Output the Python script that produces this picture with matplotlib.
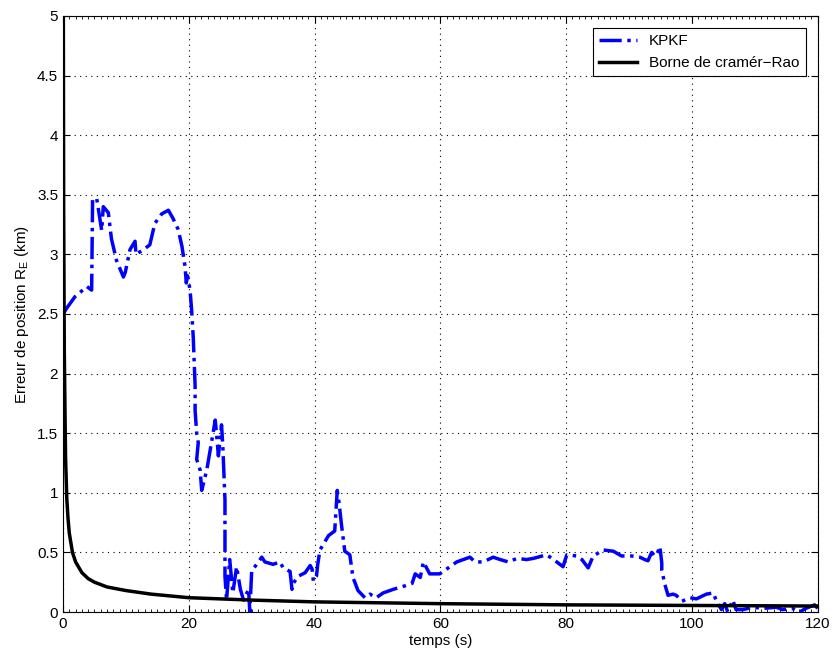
import matplotlib
matplotlib.use('Agg')
import matplotlib.pyplot as plt
import numpy as np
from matplotlib.ticker import MultipleLocator

plt.rcParams.update({'font.family': 'Liberation Sans',
                     'mathtext.fontset': 'custom',
                     'mathtext.rm': 'Liberation Sans',
                     'mathtext.it': 'Liberation Sans',
                     'font.size': 11})

# KPKF position error (km) vs time (s)
t_kpkf = [0.0, 0.6, 1.9, 3.8, 4.55, 4.7, 5.35, 6.15, 6.4, 7.2, 7.7, 8.5, 9.6, 9.9,
          10.65, 11.45, 11.6, 12.8, 13.8, 14.6, 15.7, 16.75, 17.5, 18.3, 18.9, 19.4,
          19.6, 19.8, 20.2, 20.45, 20.7, 21.0, 21.0, 21.25, 21.5, 21.25, 21.8, 22.05,
          22.85, 23.6, 24.2, 24.4, 24.7, 25.2, 25.4, 25.75, 25.75, 26.0, 26.5, 27.0,
          27.6, 28.2, 28.7, 29.5, 29.7, 30.0, 30.5, 31.6, 32.1, 33.4, 34.5, 35.0,
          36.1, 36.4, 36.6, 37.4, 38.5, 39.3, 39.6, 39.8, 40.3, 40.5, 40.85, 42.2,
          43.2, 43.6, 43.9, 44.3, 44.8, 45.6, 46.1, 46.9, 48.0, 48.8, 49.8, 50.9,
          52.5, 54.4, 55.5, 56.0, 56.8, 57.3, 58.3, 59.9, 61.8, 62.6, 64.7, 65.5,
          66.8, 68.4, 69.5, 70.8, 72.2, 73.7, 74.8, 76.9, 78.0, 79.5, 80.1, 81.7,
          82.5, 83.5, 84.3, 85.9, 87.5, 88.8, 90.4, 91.7, 92.5, 93.0, 93.6, 94.1,
          94.4, 94.9, 95.2, 95.2, 95.7, 96.2, 97.0, 97.5, 98.4, 99.7, 100.7, 102.3,
          103.4, 103.9, 104.7, 105.2, 105.7, 106.5, 107.0, 108.1, 109.7, 111.3,
          113.4, 114.4, 116.0, 117.1, 118.1, 119.5, 120.0]
err_kpkf = [2.5, 2.55, 2.645, 2.73, 2.70, 3.46, 3.47, 3.2, 3.40, 3.35, 3.13, 2.95, 2.81, 2.85,
            3.04, 3.11, 3.0, 3.04, 3.08, 3.26, 3.34, 3.37, 3.30, 3.21, 3.07, 2.90,
            2.76, 2.82, 2.70, 2.53, 2.31, 1.9, 1.69, 1.50, 1.42, 1.28, 1.19, 1.02,
            1.19, 1.42, 1.61, 1.5, 1.31, 1.57, 1.4, 0.94, 0.30, 0.1, 0.44, 0.16,
            0.38, 0.19, 0.1, 0.19, 0.0, 0.35, 0.38, 0.46, 0.42, 0.40, 0.42, 0.37,
            0.34, 0.19, 0.24, 0.30, 0.33, 0.39, 0.36, 0.26, 0.30, 0.40, 0.52, 0.64,
            0.68, 1.02, 0.91, 0.72, 0.51, 0.48, 0.29, 0.18, 0.12, 0.15, 0.12, 0.16,
            0.19, 0.22, 0.24, 0.32, 0.29, 0.42, 0.32, 0.32, 0.39, 0.42, 0.46, 0.42,
            0.42, 0.46, 0.44, 0.42, 0.45, 0.44, 0.45, 0.48, 0.44, 0.38, 0.48, 0.47,
            0.44, 0.37, 0.47, 0.52, 0.51, 0.47, 0.47, 0.46, 0.44, 0.43, 0.50, 0.47,
            0.48, 0.55, 0.41, 0.35, 0.23, 0.14, 0.15, 0.14, 0.09, 0.12, 0.11, 0.15,
            0.16, 0.09, 0.02, 0.07, 0.0, 0.1, 0.02, 0.02, 0.04, 0.03,
            0.04, 0.02, 0.03, 0.0, 0.03, 0.06, 0.03]

# Cramer-Rao bound
t_crb = [0.0, 0.05, 0.1, 0.2, 0.4, 0.6, 0.8, 1.0, 1.5, 2.0, 3.0, 4.0, 5.0, 7.0, 10.0,
         14.0, 20.0, 30.0, 40.0, 60.0, 80.0, 100.0, 120.0]
crb = [9.0, 5.0, 3.4, 2.2, 1.3, 0.95, 0.78, 0.66, 0.5, 0.42, 0.33, 0.28, 0.25, 0.21, 0.18,
       0.15, 0.12, 0.1, 0.085, 0.07, 0.06, 0.055, 0.05]

yticks = [0, 0.5, 1, 1.5, 2, 2.5, 3, 3.5, 4, 4.5, 5]
ytick_labels = ['0', '0.5', '1', '1.5', '2', '2.5', '3', '3.5', '4', '4.5', '5']

fig = plt.figure(figsize=(8.37, 6.64), dpi=100)
ax = fig.add_axes([0.0753, 0.0783, 0.9017, 0.8977])

ax.plot(t_kpkf, err_kpkf, ls='-.', lw=2.5, c='b', label='KPKF')
ax.plot(t_crb, crb, ls='-', lw=2.5, c='k', label='Borne de cramér\u2212Rao')

ax.set_xlim(0, 120)
ax.set_ylim(0, 5)
ax.set_xticks([0, 20, 40, 60, 80, 100, 120])
ax.set_yticks(yticks)
ax.set_yticklabels(ytick_labels)
ax.xaxis.set_minor_locator(MultipleLocator(1))
ax.tick_params(which='both', direction='in', top=True, right=True)
ax.tick_params(which='major', length=5)
ax.tick_params(which='minor', length=2)
ax.grid(True, which='major', ls=(0, (1, 4)), c='k', lw=0.8)
for s in ax.spines.values():
    s.set_linewidth(0.8)

ax.set_xlabel('temps (s)', labelpad=2)
ax.set_ylabel(r'Erreur de position R$_{\rm E}$ (km)', labelpad=4)

leg = ax.legend(loc='upper right', fancybox=False, framealpha=1, edgecolor='k',
                borderaxespad=0.8, handlelength=2.5, fontsize=11)
leg.get_frame().set_linewidth(0.8)

fig.savefig('out.png', dpi=100)
